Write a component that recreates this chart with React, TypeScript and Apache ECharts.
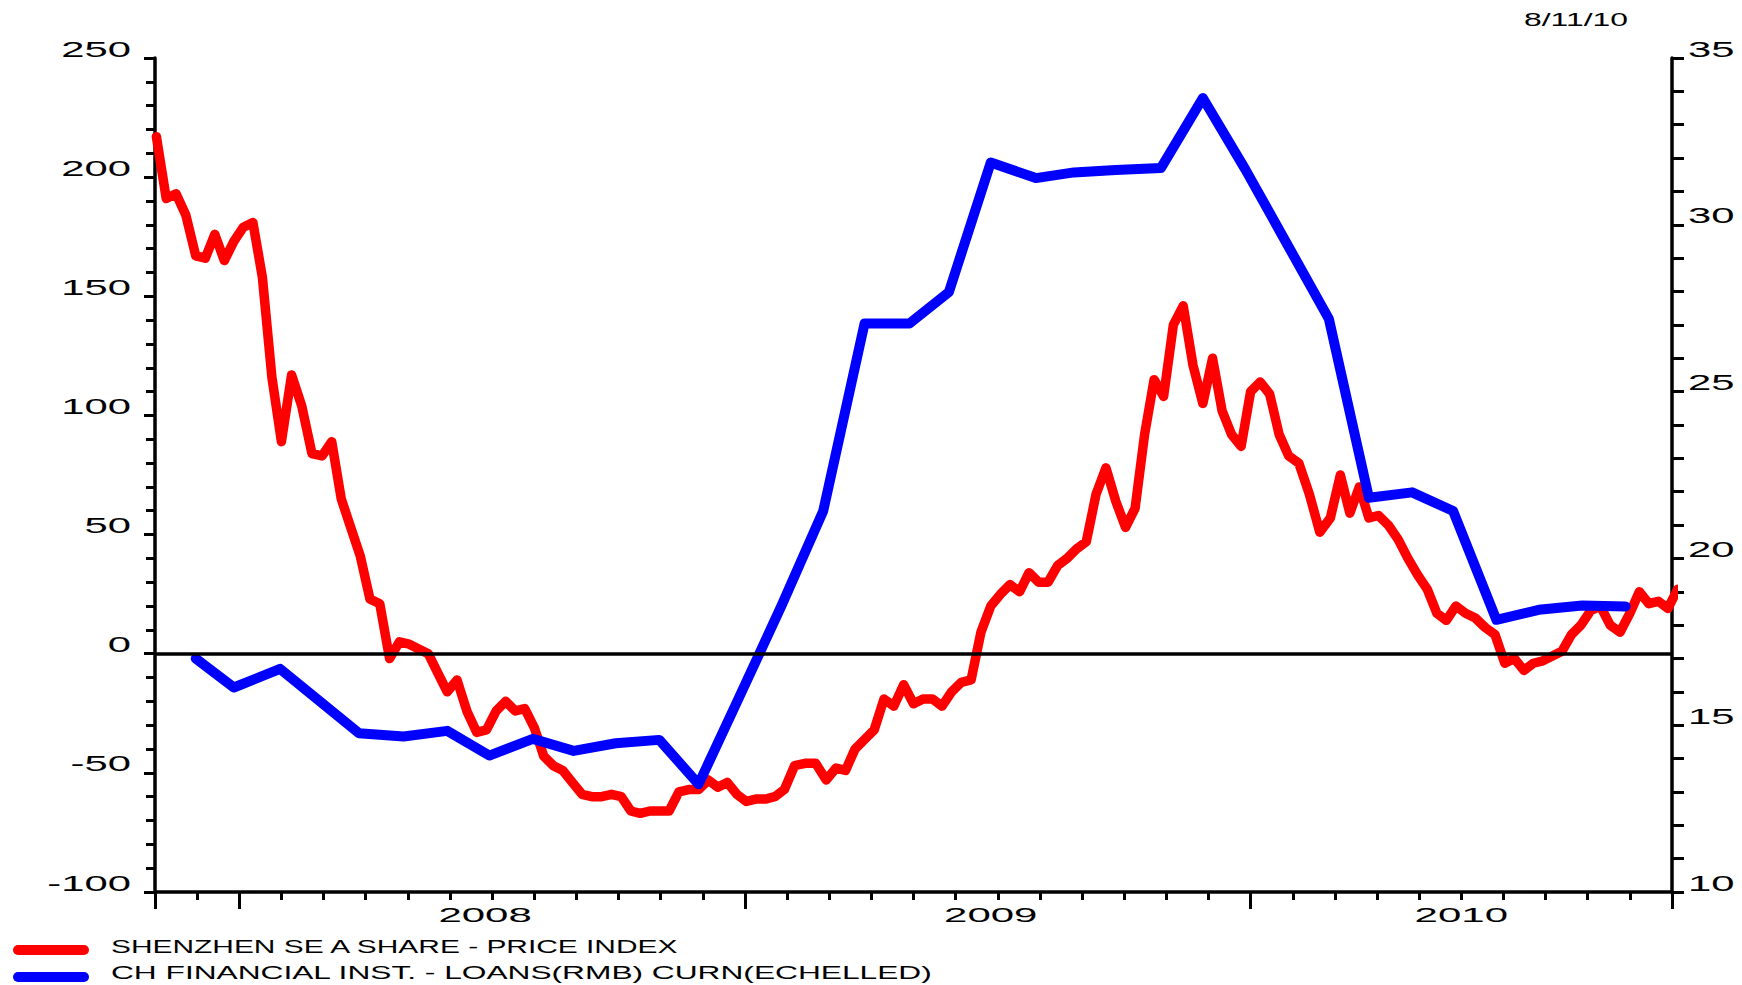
import React, { useEffect, useRef } from "react";
import * as echarts from "echarts";

// ---------- data ----------
// Weekly observations (Fridays) starting from this date
const SHENZHEN_START = "2007-11-02";
const shenzhenValues = [
  217, 191, 193, 184, 167, 166, 176, 165, 173, 179, 181, 158, 116, 89, 117, 104, 84, 83, 89, 65,
  53, 41, 23, 21, -2, 5, 4, 2, 0, -8, -16, -11, -24, -33, -32, -24, -20, -24, -23, -31,
  -43, -47, -49, -54, -59, -60, -60, -59, -60, -66, -67, -66, -66, -66, -58, -57, -57, -53, -56, -54,
  -59, -62, -61, -61, -60, -57, -47, -46, -46, -53, -48, -49, -40, -36, -32, -19, -22, -13, -21, -19,
  -19, -22, -16, -12, -11, 9, 20, 25, 29, 26, 34, 30, 30, 37, 40, 44, 47, 67, 78, 64,
  53, 61, 92, 115, 108, 138, 146, 121, 105, 124, 102, 92, 87, 110, 114, 109, 92, 83, 80, 67,
  51, 57, 75, 59, 70, 57, 58, 54, 48, 40, 33, 27, 17, 14, 20, 17, 15, 11, 8, -4,
  -2, -7, -4, -3, -1, 1, 8, 12, 18, 20, 12, 9, 17, 26, 21, 22, 19, 27,
];

const loanDates = [
  "2007-11-30", "2007-12-28", "2008-01-31", "2008-03-27", "2008-04-28", "2008-05-30",
  "2008-06-29", "2008-07-31", "2008-08-30", "2008-09-29", "2008-10-31", "2008-11-28",
  "2008-12-28", "2009-01-28", "2009-02-25", "2009-03-27", "2009-04-28", "2009-05-27",
  "2009-06-26", "2009-07-29", "2009-08-26", "2009-09-25", "2009-10-28", "2009-11-27",
  "2009-12-28", "2010-01-28", "2010-02-25", "2010-03-26", "2010-04-26", "2010-05-26",
  "2010-06-26", "2010-07-27", "2010-08-28", "2010-09-28",
];
const loanValues = [
  17.0, 16.13, 16.69, 14.76, 14.66, 14.83, 14.09, 14.59, 14.23, 14.46, 14.56, 13.23,
  15.86, 18.59, 21.42, 27.04, 27.04, 27.98, 31.87, 31.4, 31.57, 31.64, 31.7, 33.8,
  31.67, 29.41, 27.18, 21.82, 21.98, 21.42, 18.16, 18.46, 18.59, 18.56,
];

const leftTicks = [250, 200, 150, 100, 50, 0, -50, -100];
const rightTicks = [35, 30, 25, 20, 15, 10];
const yearLabels = ["2008", "2009", "2010"];
const legendNames = [
  "SHENZHEN SE A SHARE - PRICE INDEX",
  "CH FINANCIAL INST. - LOANS(RMB) CURN(ECHELLED)",
];
const seriesColors = ["#ff0000", "#0000ff"];
const dateStamp = "8/11/10";

// axis range in months counted from 1 Nov 2007
const X_MIN = 0;
const X_MAX = 36;

// ---------- helpers ----------
function monthIndex(iso: string): number {
  const [y, m, d] = iso.split("-").map(Number);
  const dim = new Date(Date.UTC(y, m, 0)).getUTCDate();
  return (y - 2007) * 12 + (m - 11) + (d - 1) / dim;
}
function weeklyDates(start: string, n: number): string[] {
  const [y, m, d] = start.split("-").map(Number);
  const t0 = Date.UTC(y, m - 1, d);
  const out: string[] = [];
  for (let i = 0; i < n; i++) {
    out.push(new Date(t0 + i * 7 * 86400000).toISOString().slice(0, 10));
  }
  return out;
}

const FONT = '"Liberation Sans", Arial, Helvetica, sans-serif';
let measureCtx: CanvasRenderingContext2D | null = null;
function textWidth(text: string, size: number): number {
  if (!measureCtx) measureCtx = document.createElement("canvas").getContext("2d");
  if (!measureCtx) return text.length * size * 0.6;
  measureCtx.font = `${size}px ${FONT}`;
  return measureCtx.measureText(text).width;
}

export default function App() {
  const ref = useRef<HTMLDivElement>(null);

  useEffect(() => {
    if (!ref.current) return;
    const chart = echarts.init(ref.current, undefined, { renderer: "svg" });

    const redDates = weeklyDates(SHENZHEN_START, shenzhenValues.length);
    const redData = shenzhenValues.map((v, i) => [monthIndex(redDates[i]), v]);
    const blueData = loanValues.map((v, i) => [monthIndex(loanDates[i]), v]);

    const black = "#000";
    const AXW = 3.5;
    const option: any = {
      animation: false,
      backgroundColor: "#ffffff",
      grid: { left: 155, top: 58, width: 1517, height: 834, containLabel: false },
      xAxis: [
        {
          type: "value",
          min: X_MIN,
          max: X_MAX,
          interval: 1,
          position: "bottom",
          axisLine: { show: true, onZero: false, lineStyle: { color: black, width: AXW } },
          axisTick: { show: true, inside: false, length: 8, lineStyle: { color: black, width: 3 } },
          axisLabel: { show: false },
          splitLine: { show: false },
        },
        {
          type: "value",
          min: X_MIN,
          max: X_MAX,
          position: "bottom",
          axisLine: { show: false, onZero: false },
          axisTick: {
            show: true,
            inside: false,
            length: 17,
            customValues: [0, 2, 14, 26, 36],
            lineStyle: { color: black, width: 3 },
          },
          axisLabel: { show: false },
          splitLine: { show: false },
        },
      ],
      yAxis: [
        {
          type: "value",
          min: -100,
          max: 250,
          interval: 50,
          position: "left",
          axisLine: { show: true, onZero: false, lineStyle: { color: black, width: AXW } },
          axisTick: { show: true, inside: false, length: 11, lineStyle: { color: black, width: 3 } },
          minorTick: { show: true, splitNumber: 5, length: 9, lineStyle: { color: black, width: 3 } },
          axisLabel: { show: false },
          splitLine: { show: false },
        },
        {
          type: "value",
          min: 10,
          max: 35,
          interval: 5,
          position: "right",
          axisLine: { show: true, onZero: false, lineStyle: { color: black, width: AXW } },
          axisTick: { show: true, inside: false, length: 12, lineStyle: { color: black, width: 3 } },
          minorTick: { show: true, splitNumber: 5, length: 12, lineStyle: { color: black, width: 3 } },
          axisLabel: { show: false },
          splitLine: { show: false },
        },
      ],
      series: [
        {
          type: "line",
          name: legendNames[0],
          xAxisIndex: 0,
          yAxisIndex: 0,
          data: redData,
          showSymbol: false,
          symbol: "none",
          lineStyle: { color: seriesColors[0], width: 9.5, cap: "round", join: "round" },
          markLine: {
            silent: true,
            symbol: "none",
            label: { show: false },
            lineStyle: { color: black, width: AXW, type: "solid" },
            data: [{ yAxis: 0 }],
          },
          z: 2,
        },
        {
          type: "line",
          name: legendNames[1],
          xAxisIndex: 0,
          yAxisIndex: 1,
          data: blueData,
          showSymbol: false,
          symbol: "none",
          lineStyle: { color: seriesColors[1], width: 10, cap: "round", join: "round" },
          z: 3,
        },
      ],
    };
    chart.setOption(option);

    // stretched texts (labels, legend, date stamp)
    const AX_SIZE = 22;
    const AX_SCALE = 1.9;
    const graphics: any[] = [];
    const mkText = (text: string, x: number, y: number, size: number, scaleX: number, align: string) => ({
      type: "text",
      x,
      y,
      scaleX,
      silent: true,
      style: {
        text,
        fill: "#000",
        font: `${size}px ${FONT}`,
        align,
        verticalAlign: "middle",
      },
    });

    leftTicks.forEach((v) => {
      const y = chart.convertToPixel({ yAxisIndex: 0 }, v) as number;
      graphics.push(mkText(String(v), 131, y - 9, AX_SIZE, AX_SCALE, "right"));
    });
    rightTicks.forEach((v) => {
      const y = chart.convertToPixel({ yAxisIndex: 1 }, v) as number;
      graphics.push(mkText(String(v), 1688, y - 9, AX_SIZE, AX_SCALE, "left"));
    });
    yearLabels.forEach((lab) => {
      const yr = Number(lab);
      const s = Math.max(X_MIN, (yr - 2007) * 12 - 10);
      const e = Math.min(X_MAX, (yr - 2007) * 12 + 2);
      const full = e - s >= 12;
      const cx = (chart.convertToPixel({ xAxisIndex: 0 }, (s + e) / 2) as number) - (full ? 7 : 0);
      graphics.push(mkText(lab, cx, 915, 21, 2.0, "center"));
    });
    graphics.push(mkText(dateStamp, 1628, 20, 18, 104 / textWidth(dateStamp, 18), "right"));

    const legendWidths = [570, 822];
    const legendY = [946, 973];
    legendNames.forEach((name, i) => {
      graphics.push({
        type: "line",
        silent: true,
        shape: { x1: 18, y1: legendY[i] + 4, x2: 84, y2: legendY[i] + 4 },
        style: { stroke: seriesColors[i], lineWidth: 10, lineCap: "round" },
      });
      graphics.push(mkText(name, 111, legendY[i], 18.6, legendWidths[i] / textWidth(name, 18.6), "left"));
    });

    chart.setOption({ graphic: graphics });

    return () => chart.dispose();
  }, []);

  return (
    <div
      ref={ref}
      style={{ position: "absolute", left: 0, top: 0, width: 1742, height: 985, background: "#fff" }}
    />
  );
}
